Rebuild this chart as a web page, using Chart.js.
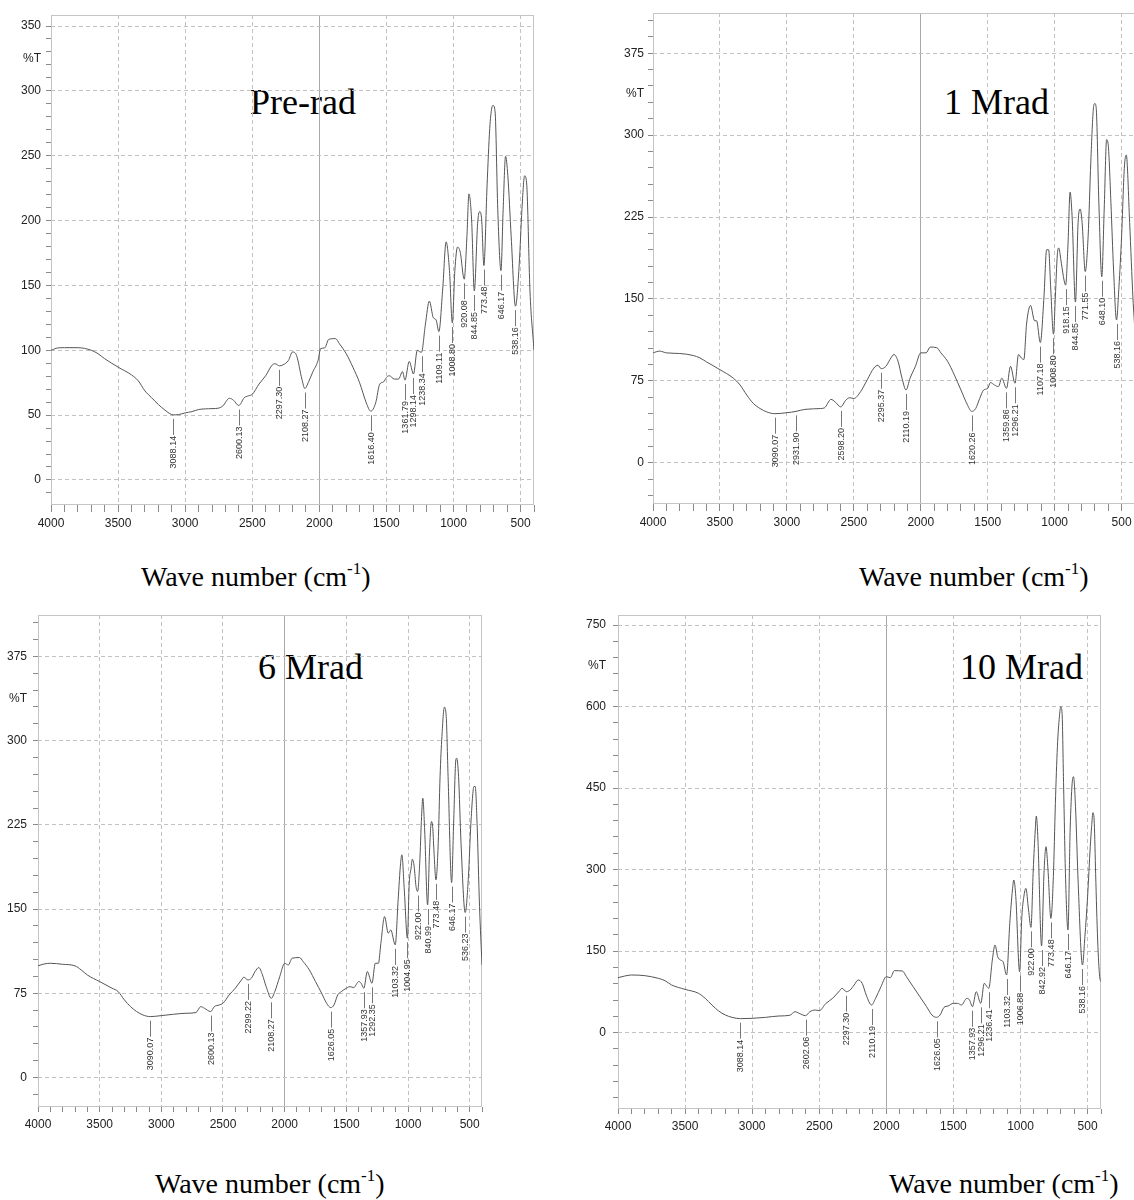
<!DOCTYPE html>
<html>
<head>
<meta charset="utf-8">
<title>FTIR spectra</title>
<script src="https://cdn.jsdelivr.net/npm/chart.js@4.4.0/dist/chart.umd.min.js"></script>
<style>
  html, body { margin: 0; padding: 0; background: #fff; overflow: hidden; }
  body { position: relative; width: 1134px; height: 1200px; }
  canvas { position: absolute; }
  .title { position: absolute; font-family: "Liberation Serif", "Times New Roman", serif; font-size: 36px; line-height: 36px; color: #000; white-space: nowrap; }
  .axis-title { position: absolute; font-family: "Liberation Serif", "Times New Roman", serif; font-size: 28px; line-height: 28px; color: #000; white-space: nowrap; }
  .axis-title .sup { font-size: 17px; position: relative; top: -12px; }
</style>
</head>
<body>
<div class="title" style="left:250px;top:84px">Pre-rad</div>
<div class="title" style="left:944px;top:84px">1 Mrad</div>
<div class="title" style="left:258px;top:649px">6 Mrad</div>
<div class="title" style="left:960px;top:649px">10 Mrad</div>
<div class="axis-title" style="left:141px;top:563px">Wave number (cm<span class="sup">-1</span>)</div>
<div class="axis-title" style="left:859px;top:563px">Wave number (cm<span class="sup">-1</span>)</div>
<div class="axis-title" style="left:155px;top:1170px">Wave number (cm<span class="sup">-1</span>)</div>
<div class="axis-title" style="left:889px;top:1170px">Wave number (cm<span class="sup">-1</span>)</div>
<script>
// wave numbers (cm-1) and %T
const xMajorTicks = [4000, 3500, 3000, 2500, 2000, 1500, 1000, 500];

const preRadWn = [4000, 3950, 3900, 3800, 3700, 3650, 3600, 3500, 3400, 3350, 3300, 3250, 3200, 3150, 3088.14, 3050, 3000, 2950, 2900, 2800, 2750, 2720, 2670, 2640, 2600.13, 2560, 2530, 2500, 2450, 2400, 2350, 2330, 2297.3, 2270, 2230, 2200, 2170, 2130, 2108.27, 2080, 2050, 2010, 1990, 1960, 1930, 1880, 1850, 1800, 1750, 1700, 1650, 1616.4, 1580, 1550, 1520, 1500, 1480, 1440, 1410, 1380, 1361.79, 1330, 1298.14, 1270, 1250, 1238.34, 1210, 1180, 1150, 1130, 1109.11, 1080, 1055, 1030, 1008.8, 990, 970, 950, 920.08, 900, 885, 865, 844.85, 820, 805, 790, 773.48, 750, 730, 715, 705, 690, 670, 646.17, 630, 612, 595, 570, 538.16, 510, 490, 470, 455, 430, 400];
const preRadT = [100, 101.8, 102, 102, 100, 97.4, 93.5, 87, 81, 76.5, 68.7, 63.4, 58.2, 53.8, 50.2, 50.4, 51.7, 52.7, 54.3, 55, 55.4, 57, 63, 61.5, 57.4, 63.4, 64.8, 66, 73.9, 80.4, 88.8, 89.6, 88, 88.8, 92.2, 98.7, 96, 77.8, 70.5, 75.7, 83, 92, 101.3, 101.8, 108.4, 109, 105, 97.4, 87, 75, 59.5, 53, 59.5, 73.9, 75.7, 79, 80.4, 77.8, 77.8, 83.5, 77, 91.4, 81.7, 100, 98.7, 98.5, 119.6, 137.9, 125, 123.5, 114.4, 148, 183.6, 161.4, 121, 161.4, 179.6, 175.7, 154.8, 187.5, 220.6, 200.5, 145.7, 198, 207, 200.5, 165.3, 226.6, 271, 286.7, 288.8, 284, 208.4, 161.4, 208.4, 249.6, 234.5, 187.5, 134, 166.6, 208.4, 234.5, 229, 145.7, 100];
const preRadPeaks = [3088.14, 2600.13, 2297.30, 2108.27, 1616.40, 1361.79, 1298.14, 1238.34, 1109.11, 1008.80, 920.08, 844.85, 773.48, 646.17, 538.16];
const preRadYTicks = [0, 50, 100, 150, 200, 250, 300, 350];

const oneMradWn = [4000, 3950, 3900, 3800, 3700, 3650, 3600, 3500, 3400, 3350, 3300, 3250, 3200, 3150, 3090.07, 3000, 2931.9, 2900, 2850, 2750, 2720, 2670, 2640, 2598.2, 2560, 2530, 2500, 2450, 2400, 2350, 2320, 2295.37, 2260, 2230, 2200, 2170, 2140, 2110.19, 2080, 2040, 2000, 1960, 1930, 1880, 1850, 1800, 1750, 1700, 1650, 1620.26, 1590, 1560, 1530, 1500, 1480, 1450, 1420, 1395, 1359.86, 1330, 1296.21, 1270, 1250, 1230, 1210, 1180, 1150, 1135, 1107.18, 1080, 1060, 1045, 1030, 1008.8, 995, 980, 970, 950, 930, 918.15, 900, 885, 870, 844.85, 825, 810, 795, 771.55, 750, 730, 710, 700, 690, 670, 648.1, 630, 612, 600, 580, 560, 538.16, 520, 500, 480, 465, 440, 415, 400];
const oneMradT = [100.6, 102.2, 100.6, 100, 98.2, 96, 92.3, 85.2, 77.4, 71.2, 62, 54.2, 49.6, 46.5, 44.9, 45.8, 47, 48, 49, 49.6, 50.2, 58, 55.7, 51.1, 57.3, 59.5, 58.8, 65, 75.9, 86.7, 89.2, 86.1, 88.3, 94.5, 99.1, 92.9, 77.4, 66.6, 77.4, 88.3, 100.6, 100.6, 105.9, 105.3, 100.6, 92.9, 80.5, 66.6, 52.6, 47, 49.6, 58.8, 66.6, 68.1, 73.4, 71.2, 69.7, 77.4, 68.1, 88.3, 72.8, 99.1, 96, 94.5, 127, 144, 130, 130, 110, 151.8, 195, 195, 161, 117.7, 151.8, 190.5, 196.7, 182.7, 167.2, 162.6, 201.3, 247.8, 226, 147.1, 219.9, 232.3, 219.9, 175, 207.5, 275.6, 325.2, 328.9, 325.2, 238.5, 170.3, 232.3, 295.8, 291.1, 238.5, 176.5, 130.7, 161, 207.5, 269.4, 281.8, 220, 150, 120];
const oneMradPeaks = [3090.07, 2931.90, 2598.20, 2295.37, 2110.19, 1620.26, 1359.86, 1296.21, 1107.18, 1008.80, 918.15, 844.85, 771.55, 648.10, 538.16];
const oneMradYTicks = [0, 75, 150, 225, 300, 375];

const sixMradWn = [4000, 3950, 3900, 3800, 3700, 3650, 3600, 3500, 3400, 3350, 3300, 3250, 3200, 3150, 3090.07, 3000, 2900, 2800, 2720, 2680, 2650, 2600.13, 2570, 2530, 2500, 2450, 2400, 2350, 2330, 2299.22, 2270, 2240, 2210, 2180, 2150, 2108.27, 2080, 2040, 2000, 1970, 1940, 1880, 1850, 1800, 1750, 1700, 1660, 1626.05, 1600, 1570, 1540, 1500, 1470, 1440, 1400, 1380, 1357.93, 1330, 1292.35, 1265, 1240, 1220, 1190, 1160, 1140, 1103.32, 1080, 1060, 1050, 1030, 1004.95, 990, 975, 965, 950, 935, 922, 905, 890, 880, 865, 840.99, 825, 810, 800, 790, 773.48, 755, 740, 725, 705, 690, 675, 646.17, 630, 612, 605, 590, 570, 536.23, 510, 490, 465, 455, 440, 420, 400];
const sixMradT = [99.4, 101.1, 101.7, 100.8, 99.4, 95.8, 91.3, 85.4, 79.5, 76.5, 69.1, 63.1, 58.7, 55.7, 54.2, 55.1, 56.3, 57.2, 57.8, 63.1, 61.6, 58.7, 63.1, 64.6, 66.1, 73.5, 79.5, 86.9, 89.3, 86.9, 88.4, 94.3, 97.9, 91.3, 80.9, 70.5, 76.5, 89.8, 101.7, 100.2, 106.2, 106.8, 103.2, 95.8, 85.4, 75, 66.1, 62.2, 64.6, 73.5, 76.5, 79.5, 80.9, 80, 85.4, 83.9, 79.5, 94.3, 83.9, 101.7, 101.7, 119.5, 143.3, 128.5, 131.4, 118.1, 158.2, 190.8, 198.3, 167.1, 124, 173, 186.4, 194.4, 187.9, 170.1, 165.6, 190.8, 232.4, 248.7, 220.5, 153.7, 202.7, 228, 223.5, 202.7, 176, 208.6, 268, 303.7, 329.8, 321.5, 268, 173.6, 226.5, 282.9, 284.4, 268, 208.6, 146.9, 179, 226.5, 259.2, 259.2, 226.5, 152.2, 100.2];
const sixMradPeaks = [3090.07, 2600.13, 2299.22, 2108.27, 1626.05, 1357.93, 1292.35, 1103.32, 1004.95, 922.00, 840.99, 773.48, 646.17, 536.23];
const sixMradYTicks = [0, 75, 150, 225, 300, 375];

const tenMradWn = [4000, 3950, 3900, 3800, 3700, 3650, 3600, 3500, 3400, 3350, 3300, 3250, 3200, 3150, 3088.14, 3000, 2900, 2800, 2720, 2680, 2650, 2602.06, 2570, 2530, 2500, 2450, 2400, 2350, 2330, 2297.3, 2270, 2240, 2210, 2180, 2150, 2110.19, 2080, 2040, 2000, 1970, 1940, 1880, 1850, 1800, 1750, 1700, 1660, 1626.05, 1600, 1570, 1540, 1500, 1470, 1440, 1400, 1380, 1357.93, 1330, 1296.21, 1270, 1250, 1236.41, 1210, 1190, 1170, 1150, 1130, 1103.32, 1080, 1060, 1050, 1035, 1006.88, 990, 975, 960, 940, 922, 905, 890, 882, 870, 842.92, 825, 810, 795, 773.48, 755, 740, 725, 710, 700, 690, 680, 665, 646.17, 630, 615, 605, 590, 570, 538.16, 520, 500, 480, 470, 460, 450, 440, 425, 410, 400];
const tenMradT = [101.2, 104.2, 106.1, 104.9, 100, 95.7, 87.7, 79.7, 72.4, 63.2, 50.9, 39.9, 32.5, 28.2, 25.8, 26.4, 28.2, 30.7, 31.9, 38.6, 35.6, 31.3, 38.6, 41.7, 40.5, 54, 63.2, 76.7, 81.6, 75.4, 78.5, 87.7, 96.9, 90.8, 69.3, 50.9, 63.2, 84.6, 103, 101.2, 114.1, 113.4, 103, 84.6, 66.2, 47.8, 32.5, 28.2, 32.5, 46.6, 49.1, 54, 54, 50.9, 63.2, 60.1, 47.8, 75.4, 54, 90.8, 84.6, 81.6, 133.7, 161.3, 139.8, 133.7, 130.6, 106.1, 201.1, 262.5, 280.9, 250.2, 112.2, 213.4, 250.2, 265.5, 225.7, 193.8, 299.3, 372.8, 398.6, 354.5, 159.4, 293.1, 342.2, 299.3, 210.3, 287, 421.9, 526.1, 581.3, 599.7, 587.5, 471, 293.1, 188.9, 372.8, 458.7, 471, 415.8, 274.7, 124.5, 176.6, 250.2, 342.2, 379, 404.7, 385.1, 293.1, 170.5, 103, 93.8];
const tenMradPeaks = [3088.14, 2602.06, 2297.30, 2110.19, 1626.05, 1357.93, 1296.21, 1236.41, 1103.32, 1006.88, 922.00, 842.92, 773.48, 646.17, 538.16];
const tenMradYTicks = [0, 150, 300, 450, 600, 750];

const splitWn = 2000; // drawn as a solid grid line
const FONT = '"Liberation Sans", Arial, Helvetica, sans-serif';
const PAD_L = 60, PAD_T = 20, PAD_R = 15, PAD_B = 50;

const panels = [
  { wn: preRadWn, t: preRadT, peaks: preRadPeaks, yTicks: preRadYTicks, yMin: -19.3, yMax: 358.5, yMinor: 10,
    box: { left: 51, top: 15, right: 534, bottom: 505 }, xTick: 7, xPad: 4, yTick: 5, yPad: 5 },
  { wn: oneMradWn, t: oneMradT, peaks: oneMradPeaks, yTicks: oneMradYTicks, yMin: -37.8, yMax: 411.8, yMinor: 15,
    box: { left: 653, top: 13, right: 1135, bottom: 504 }, xTick: 7, xPad: 4, yTick: 5, yPad: 4 },
  { wn: sixMradWn, t: sixMradT, peaks: sixMradPeaks, yTicks: sixMradYTicks, yMin: -26.3, yMax: 411.9, yMinor: 15,
    box: { left: 38, top: 615, right: 482, bottom: 1107 }, xTick: 5, xPad: 5, yTick: 5, yPad: 6 },
  { wn: tenMradWn, t: tenMradT, peaks: tenMradPeaks, yTicks: tenMradYTicks, yMin: -140.4, yMax: 768.4, yMinor: 30,
    box: { left: 618, top: 615, right: 1101, bottom: 1109 }, xTick: 5, xPad: 5, yTick: 5, yPad: 7 },
];

// frame round the plot, peak call-outs and the %T label
const spectrumDecor = {
  id: 'spectrumDecor',
  beforeDatasetsDraw(chart) {
    const { ctx, chartArea: a } = chart;
    ctx.save();
    ctx.strokeStyle = '#c4c4c4';
    ctx.lineWidth = 1;
    ctx.strokeRect(Math.round(a.left) + 0.5, Math.round(a.top) + 0.5,
      Math.round(a.right - a.left) - 1, Math.round(a.bottom - a.top) - 1);
    ctx.restore();
  },
  afterDatasetsDraw(chart, args, opts) {
    const { ctx } = chart;
    const xs = chart.scales.x;
    const ys = chart.scales.y;
    ctx.save();
    ctx.font = '9px ' + FONT;
    ctx.fillStyle = '#333';
    ctx.strokeStyle = '#777';
    ctx.lineWidth = 1;
    ctx.textAlign = 'right';
    ctx.textBaseline = 'middle';
    opts.peaks.forEach((p) => {
      const i = opts.wn.indexOf(p);
      const x = Math.round(xs.getPixelForValue(p)) + 0.5;
      const y0 = ys.getPixelForValue(opts.t[i]) + 4;
      ctx.beginPath();
      ctx.moveTo(x, y0);
      ctx.lineTo(x, y0 + 16);
      ctx.stroke();
      ctx.save();
      ctx.translate(x, y0 + 17);
      ctx.rotate(-Math.PI / 2);
      ctx.fillText(p.toFixed(2), 0, 0);
      ctx.restore();
    });
    const yt = opts.yTicks;
    const mid = (yt[yt.length - 1] + yt[yt.length - 2]) / 2;
    ctx.font = '12px ' + FONT;
    ctx.fillStyle = '#222';
    ctx.fillText('%T', chart.chartArea.left - opts.labelGap, ys.getPixelForValue(mid));
    ctx.restore();
  },
};

const minorTicks = (lo, hi, step, descending) => {
  const out = [];
  for (let v = Math.ceil(lo / step) * step; v <= hi + 1e-9; v += step) out.push({ value: v });
  return descending ? out.reverse() : out;
};

const drawPanel = (p) => {
  const b = p.box;
  const canvas = document.createElement('canvas');
  const w = PAD_L + (b.right - b.left) + PAD_R;
  const h = PAD_T + (b.bottom - b.top) + PAD_B;
  canvas.width = w;
  canvas.height = h;
  canvas.style.left = (b.left - PAD_L) + 'px';
  canvas.style.top = (b.top - PAD_T) + 'px';
  canvas.style.width = w + 'px';
  canvas.style.height = h + 'px';
  document.body.appendChild(canvas);

  new Chart(canvas.getContext('2d'), {
    type: 'line',
    data: {
      datasets: [
        {
          data: p.wn.map((x, i) => ({ x, y: p.t[i] })),
          borderColor: '#555',
          borderWidth: 1,
          pointRadius: 0,
          fill: false,
          cubicInterpolationMode: 'monotone',
        },
      ],
    },
    options: {
      responsive: false,
      animation: false,
      events: [],
      layout: { padding: { top: PAD_T, right: PAD_R, left: 0, bottom: 0 } },
      plugins: {
        legend: { display: false },
        tooltip: { enabled: false },
        spectrumDecor: { peaks: p.peaks, wn: p.wn, t: p.t, yTicks: p.yTicks, labelGap: p.yTick + p.yPad },
      },
      scales: {
        x: {
          type: 'linear',
          reverse: true,
          min: 400,
          max: 4000,
          afterFit: (s) => { s.height = PAD_B; },
          afterBuildTicks: (s) => { s.ticks = minorTicks(400, 4000, 100, true); },
          grid: {
            color: (c) => {
              const v = c.tick ? c.tick.value : null;
              if (v === splitWn) return '#a8a8a8';
              return xMajorTicks.includes(v) ? '#c2c2c2' : 'rgba(0,0,0,0)';
            },
            tickColor: '#8a8a8a',
            tickLength: p.xTick,
            lineWidth: 1,
          },
          border: {
            display: false,
            dash: (c) => (c.tick && c.tick.value === splitWn ? [] : [4, 3]),
          },
          ticks: {
            autoSkip: false,
            maxRotation: 0,
            minRotation: 0,
            padding: p.xPad,
            color: '#222',
            font: { family: FONT, size: 12 },
            callback: (v) => (xMajorTicks.includes(v) ? String(v) : ''),
          },
        },
        y: {
          type: 'linear',
          min: p.yMin,
          max: p.yMax,
          afterFit: (s) => { s.width = PAD_L; },
          afterBuildTicks: (s) => { s.ticks = minorTicks(p.yMin, p.yMax, p.yMinor, false); },
          grid: {
            color: (c) => (c.tick && p.yTicks.includes(c.tick.value) ? '#c2c2c2' : 'rgba(0,0,0,0)'),
            tickColor: '#8a8a8a',
            tickLength: p.yTick,
            lineWidth: 1,
          },
          border: { display: false, dash: [4, 3] },
          ticks: {
            autoSkip: false,
            padding: p.yPad,
            color: '#222',
            font: { family: FONT, size: 12 },
            callback: (v) => (p.yTicks.includes(v) ? String(v) : ''),
          },
        },
      },
    },
    plugins: [spectrumDecor],
  });
};

panels.forEach(drawPanel);
</script>
</body>
</html>
